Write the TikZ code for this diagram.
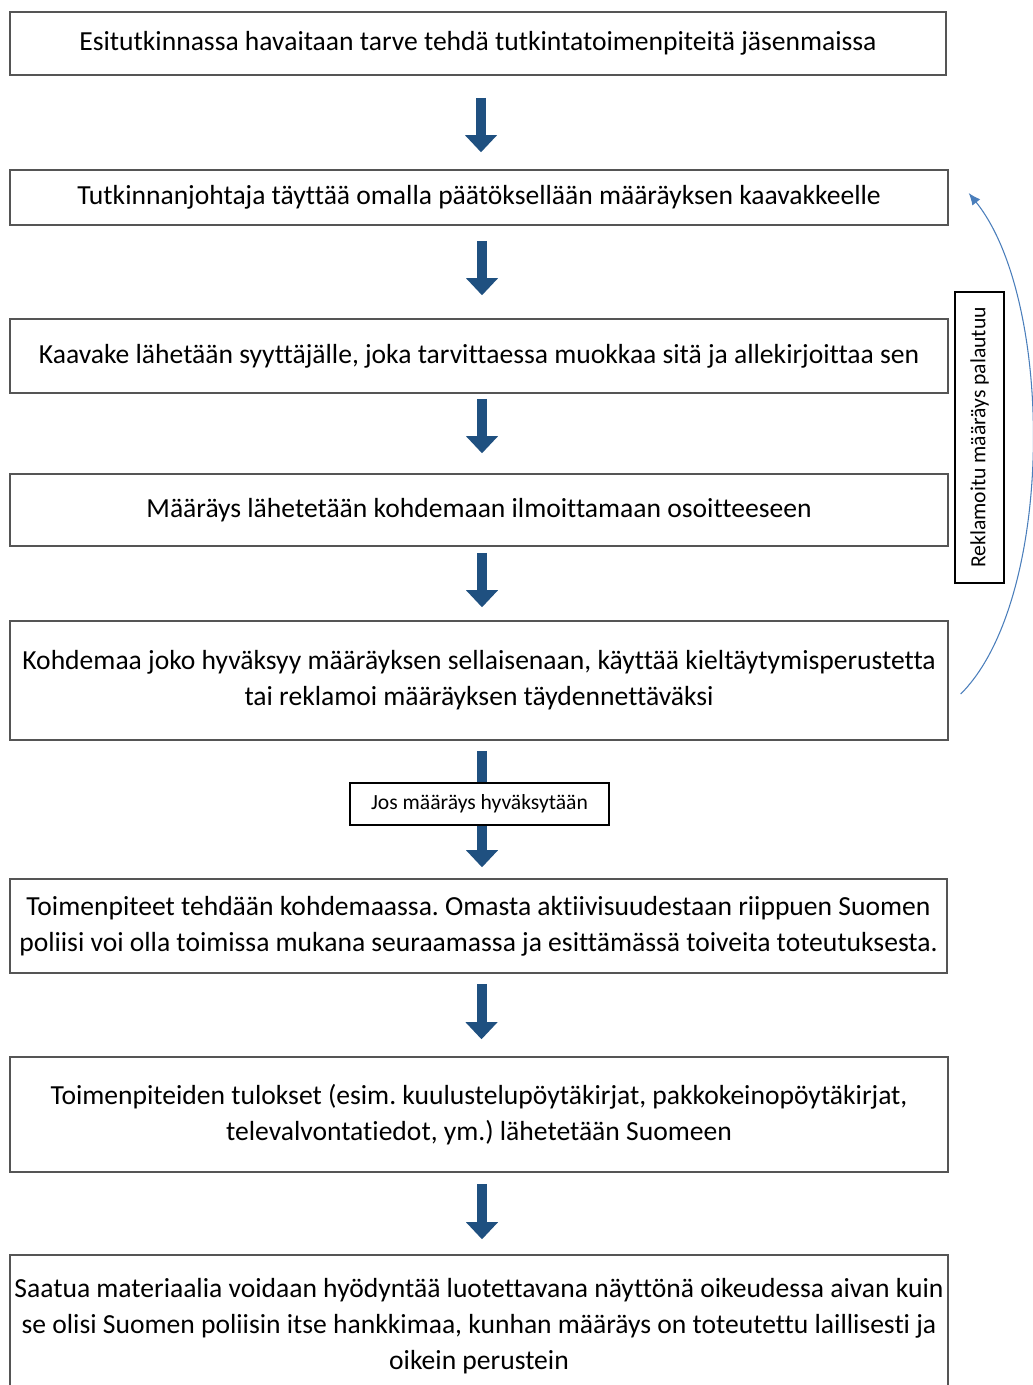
\documentclass[tikz,border=0pt]{standalone}
\usepackage{fontspec}
\setmainfont[Ligatures=NoCommon]{Carlito}
\usetikzlibrary{arrows.meta}
\definecolor{boxgray}{RGB}{85,85,85}
\definecolor{flowblue}{RGB}{31,80,128}
\definecolor{loopblue}{RGB}{74,126,187}
\tikzset{
  stage/.style={draw=boxgray, line width=0.9pt, minimum width=18.76cm, inner sep=0pt, align=center, font=\fontsize{15.7}{20.5}\selectfont},
  note/.style={draw=black, line width=0.7pt, fill=white, inner sep=0pt, font=\fontsize{12.3}{14}\selectfont},
  flow/.style={flowblue, line width=0.2cm, -{Triangle[length=0.34cm,width=0.64cm,line width=0pt]}},
}
\frenchspacing
\begin{document}
\begin{tikzpicture}[x=0.02cm,y=-0.02cm]
\path[fill=white,use as bounding box] (0,0) rectangle (1033,1385);
% the steps
\node[stage, minimum width=18.72cm, minimum height=1.26cm] (b1) at (478,43.5) {Esitutkinnassa havaitaan tarve tehdä tutkintatoimenpiteitä jäsenmaissa};
\node[stage, minimum height=1.1cm] (b2) at (479,197.5) {Tutkinnanjohtaja täyttää omalla päätöksellään määräyksen kaavakkeelle};
\node[stage, minimum height=1.48cm] (b3) at (479,356) {Kaavake lähetään syyttäjälle, joka tarvittaessa muokkaa sitä ja allekirjoittaa sen};
\node[stage, minimum height=1.44cm] (b4) at (479,510) {Määräys lähetetään kohdemaan ilmoittamaan osoitteeseen};
\node[stage, minimum height=2.38cm] (b5) at (479,680.5) {Kohdemaa joko hyväksyy määräyksen sellaisenaan, käyttää kieltäytymisperustetta\\tai reklamoi määräyksen täydennettäväksi};
\node[stage, minimum width=18.74cm, minimum height=1.88cm] (b6) at (478.5,926) {Toimenpiteet tehdään kohdemaassa. Omasta aktiivisuudestaan riippuen Suomen\\poliisi voi olla toimissa mukana seuraamassa ja esittämässä toiveita toteutuksesta.};
\node[stage, minimum height=2.3cm] (b7) at (479,1114.5) {Toimenpiteiden tulokset (esim. kuulustelupöytäkirjat, pakkokeinopöytäkirjat,\\televalvontatiedot, ym.) lähetetään Suomeen};
\node[stage, minimum height=2.84cm] (b8) at (479,1326) {Saatua materiaalia voidaan hyödyntää luotettavana näyttönä oikeudessa aivan kuin\\se olisi Suomen poliisin itse hankkimaa, kunhan määräys on toteutettu laillisesti ja\\oikein perustein};
% arrows down
\draw[flow, shorten <=0.44cm, shorten >=0.34cm] ([xshift=0.06cm]b1.south) -- ([xshift=0.06cm]b1.south |- b2.north);
\draw[flow, shorten <=0.30cm, shorten >=0.46cm] ([xshift=0.06cm]b2.south) -- ([xshift=0.06cm]b2.south |- b3.north);
\draw[flow, shorten <=0.10cm, shorten >=0.40cm] ([xshift=0.06cm]b3.south) -- ([xshift=0.06cm]b3.south |- b4.north);
\draw[flow, shorten <=0.12cm, shorten >=0.26cm] ([xshift=0.06cm]b4.south) -- ([xshift=0.06cm]b4.south |- b5.north);
\draw[flow, shorten <=0.20cm, shorten >=0.22cm] ([xshift=0.06cm]b5.south) -- ([xshift=0.06cm]b5.south |- b6.north);
\draw[flow, shorten <=0.20cm, shorten >=0.34cm] ([xshift=0.06cm]b6.south) -- ([xshift=0.06cm]b6.south |- b7.north);
\draw[flow, shorten <=0.22cm, shorten >=0.30cm] ([xshift=0.06cm]b7.south) -- ([xshift=0.06cm]b7.south |- b8.north);
% labels
\node[note, minimum width=5.18cm, minimum height=0.84cm] (accept) at (479.5,804) {Jos määräys hyväksytään};
\node[note, rotate=90, minimum width=5.82cm, minimum height=0.98cm] (back) at (979.5,437.5) {Reklamoitu määräys palautuu};
% return loop
\draw[loopblue, line width=0.6pt, -{Latex[length=2.4mm,width=2mm]}] ([xshift=0.24cm,yshift=-0.27cm]b5.east) .. controls (1055,600) and (1055,300) .. ([xshift=0.4cm,yshift=0.09cm]b2.east);
\end{tikzpicture}
\end{document}
